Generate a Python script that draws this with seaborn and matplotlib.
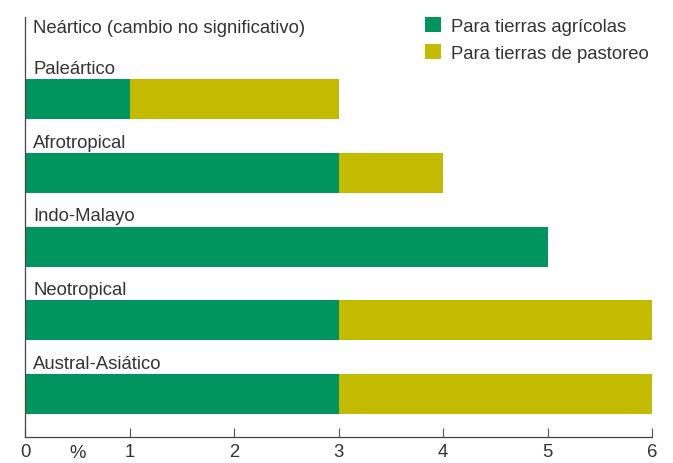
import numpy as np
import pandas as pd
import matplotlib
matplotlib.use("Agg")
import matplotlib.pyplot as plt
import seaborn as sns
from matplotlib.patches import Patch

regions = ["Neártico (cambio no significativo)", "Paleártico", "Afrotropical",
           "Indo-Malayo", "Neotropical", "Austral-Asiático"]
agricola = [0, 1, 3, 5, 3, 3]
pastoreo = [0, 2, 1, 0, 3, 3]
xticks = [0, 1, 2, 3, 4, 5, 6]

green = "#009460"
olive = "#c2bb00"
txt = "#333333"
fs = 13.3

df = pd.DataFrame({"region": regions, "agricola": agricola, "pastoreo": pastoreo})
df["total"] = df["agricola"] + df["pastoreo"]

sns.set_style("white")
plt.rcParams["font.family"] = ["Liberation Sans", "DejaVu Sans"]

fig = plt.figure(figsize=(6.73, 4.64), dpi=100)
ax = fig.add_axes([25 / 673, 26 / 464, 627 / 673, 420 / 464])

bw = 0.542
sns.barplot(data=df, y="region", x="total", orient="h", color=olive,
            width=bw, saturation=1, linewidth=0, ax=ax)
sns.barplot(data=df, y="region", x="agricola", orient="h", color=green,
            width=bw, saturation=1, linewidth=0, ax=ax)

# region labels above the bars
for i, name in enumerate(regions):
    off = 0.03 if i == 0 else -0.42
    ax.text(0.08, i + off, name, ha="left", va="center", fontsize=fs, color=txt)

ax.set_xlim(0, 6)
ax.set_ylim(5.58, -0.115)
ax.set_yticks([])
ax.set_ylabel("")
ax.set_xlabel("")
ax.set_xticks(xticks)
ax.set_xticklabels([str(t) for t in xticks], fontsize=fs, color=txt)
ax.tick_params(axis="x", bottom=True, direction="in", length=6.5, width=0.8,
               color="#555555", pad=4)
ax.text(0.5, -0.036, "%", transform=ax.get_xaxis_transform(), ha="center",
        va="center", fontsize=fs, color=txt)

for s in ["top", "right"]:
    ax.spines[s].set_visible(False)
for s in ["left", "bottom"]:
    ax.spines[s].set_color("#444444")
    ax.spines[s].set_linewidth(0.9)

handles = [Patch(facecolor=green, edgecolor="none", label="Para tierras agrícolas"),
           Patch(facecolor=olive, edgecolor="none", label="Para tierras de pastoreo")]
leg = ax.legend(handles=handles, loc="upper left", bbox_to_anchor=(400 / 627, 1.0),
                frameon=False, fontsize=fs, handlelength=0.85, handleheight=0.85,
                handletextpad=0.55, labelspacing=0.5, borderaxespad=0.0,
                borderpad=0.0)
for t in leg.get_texts():
    t.set_color(txt)

fig.savefig("out.png", dpi=100)
